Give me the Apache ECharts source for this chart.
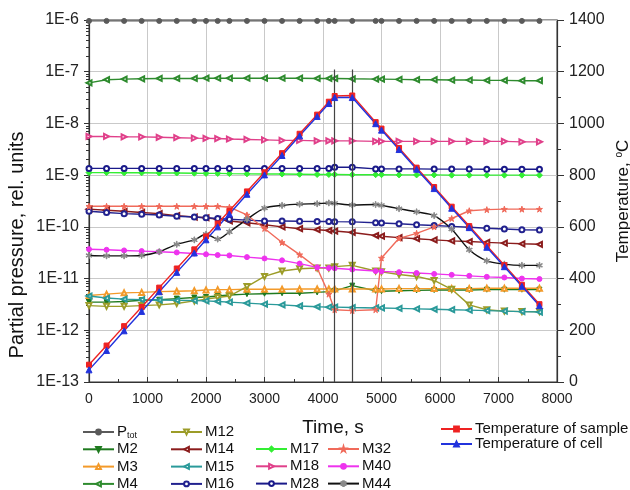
<!DOCTYPE html>
<html>
<head>
<meta charset="utf-8">
<script src="https://cdn.jsdelivr.net/npm/echarts@6/dist/echarts.min.js"></script>
<style>
  html, body { margin: 0; padding: 0; background: #fff; }
  #chart { width: 630px; height: 490px; }
</style>
</head>
<body>
<div id="chart"></div>
<script>
// time, s
var timeS = [0, 300, 600, 900, 1200, 1500, 1800, 2000, 2200, 2400, 2700, 3000, 3300, 3600, 3900, 4100, 4200, 4500,
	4900, 5000, 5300, 5600, 5900, 6200, 6500, 6800, 7100, 7400, 7700];
var timeTicks = [0, 1000, 2000, 3000, 4000, 5000, 6000, 7000];
var timeMaxTick = 8000;

// partial pressures, rel. units
var pTot = [9.6e-7, 9.6e-7, 9.6e-7, 9.6e-7, 9.6e-7, 9.6e-7, 9.6e-7, 9.6e-7, 9.6e-7, 9.6e-7, 9.6e-7, 9.6e-7, 9.6e-7, 9.6e-7,
	9.6e-7, 9.6e-7, 9.6e-7, 9.6e-7, 9.6e-7, 9.6e-7, 9.6e-7, 9.6e-7, 9.6e-7, 9.6e-7, 9.6e-7, 9.6e-7, 9.6e-7, 9.6e-7, 9.6e-7];
var m2 = [3.5e-12, 3.5e-12, 3.6e-12, 3.8e-12, 3.9e-12, 4.1e-12, 4.3e-12, 4.4e-12, 4.6e-12, 4.8e-12, 5.0e-12, 5.1e-12, 5.2e-12,
	5.2e-12, 5.4e-12, 5.6e-12, 5.8e-12, 7.3e-12, 5.8e-12, 5.7e-12, 5.8e-12, 5.9e-12, 6.0e-12, 6.0e-12, 6.0e-12, 6.1e-12,
	6.1e-12, 6.1e-12, 6.1e-12];
var m3 = [4.7e-12, 5.0e-12, 5.3e-12, 5.4e-12, 5.6e-12, 5.7e-12, 5.8e-12, 6.0e-12, 6.1e-12, 6.1e-12, 6.2e-12, 6.2e-12, 6.2e-12,
	6.3e-12, 6.3e-12, 6.3e-12, 6.3e-12, 6.3e-12, 6.3e-12, 6.3e-12, 6.4e-12, 6.4e-12, 6.4e-12, 6.4e-12, 6.4e-12, 6.5e-12,
	6.5e-12, 6.5e-12, 6.5e-12];
var m4 = [6.1e-8, 7.0e-8, 7.2e-8, 7.3e-8, 7.4e-8, 7.4e-8, 7.4e-8, 7.5e-8, 7.5e-8, 7.5e-8, 7.5e-8, 7.5e-8, 7.5e-8, 7.5e-8,
	7.4e-8, 7.4e-8, 7.4e-8, 7.3e-8, 7.2e-8, 7.2e-8, 7.1e-8, 7.0e-8, 7.0e-8, 6.9e-8, 6.9e-8, 6.8e-8, 6.8e-8, 6.7e-8, 6.7e-8];
var m12 = [3.0e-12, 2.9e-12, 2.9e-12, 3.0e-12, 3.1e-12, 3.3e-12, 3.7e-12, 4.0e-12, 4.3e-12, 4.6e-12, 7.0e-12, 1.1e-11, 1.4e-11,
	1.55e-11, 1.6e-11, 1.6e-11, 1.7e-11, 1.8e-11, 1.4e-11, 1.35e-11, 1.2e-11, 1.1e-11, 9.2e-12, 6.2e-12, 3.1e-12, 2.5e-12,
	2.35e-12, 2.3e-12, 2.3e-12];
var m14 = [2.2e-10, 2.1e-10, 2.0e-10, 1.9e-10, 1.8e-10, 1.65e-10, 1.55e-10, 1.5e-10, 1.4e-10, 1.3e-10, 1.2e-10, 1.1e-10, 1.0e-10,
	9.2e-11, 8.8e-11, 8.5e-11, 8.3e-11, 7.8e-11, 6.8e-11, 6.6e-11, 6.2e-11, 5.9e-11, 5.6e-11, 5.35e-11, 5.2e-11, 5.0e-11,
	4.85e-11, 4.7e-11, 4.6e-11];
var m15 = [4.6e-12, 4.2e-12, 4.0e-12, 3.9e-12, 3.85e-12, 3.8e-12, 3.75e-12, 3.7e-12, 3.6e-12, 3.5e-12, 3.35e-12, 3.2e-12,
	3.1e-12, 2.95e-12, 2.85e-12, 2.8e-12, 2.8e-12, 2.75e-12, 2.7e-12, 2.7e-12, 2.65e-12, 2.6e-12, 2.55e-12, 2.5e-12,
	2.45e-12, 2.4e-12, 2.35e-12, 2.3e-12, 2.25e-12];
var m16 = [2.0e-10, 1.9e-10, 1.8e-10, 1.75e-10, 1.7e-10, 1.6e-10, 1.55e-10, 1.5e-10, 1.45e-10, 1.4e-10, 1.35e-10, 1.3e-10,
	1.3e-10, 1.28e-10, 1.27e-10, 1.27e-10, 1.26e-10, 1.25e-10, 1.2e-10, 1.19e-10, 1.15e-10, 1.1e-10, 1.06e-10, 1.02e-10,
	9.8e-11, 9.4e-11, 9.1e-11, 8.8e-11, 8.7e-11];
var m17 = [1.12e-9, 1.12e-9, 1.11e-9, 1.11e-9, 1.1e-9, 1.1e-9, 1.09e-9, 1.08e-9, 1.08e-9, 1.07e-9, 1.06e-9, 1.05e-9, 1.05e-9,
	1.04e-9, 1.03e-9, 1.03e-9, 1.03e-9, 1.02e-9, 1.02e-9, 1.02e-9, 1.01e-9, 1.01e-9, 1.01e-9, 1.0e-9, 1.0e-9, 1.0e-9,
	1.0e-9, 1.0e-9, 1.0e-9];
var m18 = [5.6e-9, 5.6e-9, 5.5e-9, 5.5e-9, 5.4e-9, 5.3e-9, 5.2e-9, 5.15e-9, 5.1e-9, 5.0e-9, 4.9e-9, 4.8e-9, 4.7e-9, 4.7e-9,
	4.6e-9, 4.6e-9, 4.6e-9, 4.6e-9, 4.5e-9, 4.5e-9, 4.5e-9, 4.5e-9, 4.5e-9, 4.5e-9, 4.5e-9, 4.5e-9, 4.5e-9, 4.4e-9, 4.4e-9];
var m28 = [1.35e-9, 1.35e-9, 1.35e-9, 1.35e-9, 1.35e-9, 1.35e-9, 1.35e-9, 1.35e-9, 1.35e-9, 1.35e-9, 1.35e-9, 1.35e-9,
	1.35e-9, 1.35e-9, 1.35e-9, 1.35e-9, 1.42e-9, 1.42e-9, 1.32e-9, 1.32e-9, 1.32e-9, 1.32e-9, 1.31e-9, 1.31e-9, 1.31e-9,
	1.3e-9, 1.3e-9, 1.3e-9, 1.3e-9];
var m32 = [2.5e-10, 2.5e-10, 2.5e-10, 2.5e-10, 2.5e-10, 2.5e-10, 2.5e-10, 2.5e-10, 2.5e-10, 2.4e-10, 1.7e-10, 9.3e-11, 5.0e-11,
	2.9e-11, 1.6e-11, 5.0e-12, 2.5e-12, 2.4e-12, 2.5e-12, 2.5e-11, 6.0e-11, 7.5e-11, 1.0e-10, 1.45e-10, 2.05e-10, 2.15e-10,
	2.2e-10, 2.2e-10, 2.2e-10];
var m40 = [3.7e-11, 3.6e-11, 3.5e-11, 3.4e-11, 3.3e-11, 3.2e-11, 3.05e-11, 2.95e-11, 2.85e-11, 2.8e-11, 2.6e-11, 2.45e-11,
	2.25e-11, 1.95e-11, 1.65e-11, 1.6e-11, 1.58e-11, 1.5e-11, 1.4e-11, 1.38e-11, 1.33e-11, 1.28e-11, 1.23e-11, 1.18e-11,
	1.13e-11, 1.08e-11, 1.05e-11, 1.0e-11, 9.8e-12];
var m44 = [2.8e-11, 2.75e-11, 2.75e-11, 2.8e-11, 3.3e-11, 4.6e-11, 5.6e-11, 7.2e-11, 5.8e-11, 8.0e-11, 1.4e-10, 2.3e-10, 2.6e-10,
	2.75e-10, 2.8e-10, 2.9e-10, 2.85e-10, 2.65e-10, 2.7e-10, 2.6e-10, 2.25e-10, 1.95e-10, 1.65e-10, 9.0e-11, 3.6e-11,
	2.2e-11, 1.9e-11, 1.8e-11, 1.8e-11];

// temperature, oC
var tSample = [67, 141, 216, 290, 365, 439, 513, 563, 613, 662, 737, 811, 885, 960, 1034, 1084, 1106, 1108,
	1005, 980, 905, 829, 754, 678, 603, 527, 452, 376, 301];
var tCell = [47, 122, 198, 273, 349, 424, 499, 550, 600, 650, 726, 801, 876, 952, 1027, 1077, 1100, 1100,
	999, 974, 899, 823, 748, 672, 597, 521, 446, 370, 295];

// vertical marker lines (s)
var markTimes = [4190, 4500];

var FONT = 'Liberation Sans, Arial, sans-serif';
var STAR = 'path://M50,0 L61,35 L98,35 L68,57 L79,91 L50,70 L21,91 L32,57 L2,35 L39,35 Z';
var ASTER = 'path://M45,0h10v40l35,-20l5,9l-35,21l35,21l-5,9l-35,-20v40h-10v-40l-35,20l-5,-9l35,-21l-35,-21l5,-9l35,20z';

function pairs(vals){
	var out = [];
	for(var i=0;i<timeS.length;i++){
		out.push([timeS[i], vals[i]]);
	}
	return out;
}

function line(name, vals, color, symbol, size, rotate, axis, markColor){
	return {
		name: name,
		type: 'line',
		yAxisIndex: axis || 0,
		data: pairs(vals),
		symbol: symbol,
		symbolSize: size,
		symbolRotate: rotate || 0,
		showAllSymbol: true,
		color: color,
		lineStyle: { color: color, width: 1.4 },
		itemStyle: { color: markColor || color, borderColor: markColor || color, borderWidth: 1 },
		z: axis ? 5 : 3
	};
}

var series = [
	line('Ptot', pTot, '#5a5a5a', 'circle', 5),
	line('M2', m2, '#1f7a1f', 'triangle', 5, 180),
	line('M3', m3, '#f39a2a', 'emptyTriangle', 5),
	line('M4', m4, '#2e8b2e', 'emptyTriangle', 5, 90),
	line('M12', m12, '#9c9c28', 'emptyTriangle', 5, 180),
	line('M14', m14, '#8b1c1c', 'emptyTriangle', 5, 90),
	line('M15', m15, '#2a9a9a', 'emptyTriangle', 5, 90),
	line('M16', m16, '#22228f', 'emptyCircle', 5),
	line('M17', m17, '#33ee33', 'diamond', 6),
	line('M18', m18, '#e0408a', 'emptyTriangle', 5, -90),
	line('M28', m28, '#1a1a8a', 'emptyCircle', 5),
	line('M32', m32, '#f06a5a', STAR, 6),
	line('M40', m40, '#ee33ee', 'circle', 5),
	line('M44', m44, '#111111', ASTER, 6, 0, 0, '#8a8a8a'),
	line('Temperature of sample', tSample, '#ee2222', 'rect', 5, 0, 1),
	line('Temperature of cell', tCell, '#2233dd', 'triangle', 6, 0, 1)
];
series[13].smooth = 0.3;

// the two vertical lines of the plateau
series[0].markLine = {
	silent: true,
	symbol: ['none', 'none'],
	label: { show: false },
	lineStyle: { color: '#444', type: 'solid', width: 1.2 },
	data: markTimes.map(function(t){ return [{ coord: [t, 1.1e-7] }, { coord: [t, 1e-13] }]; })
};

function legendBox(names, left, top, gap){
	return {
		data: names,
		orient: 'vertical',
		left: left,
		top: top,
		height: 120,
		padding: 0,
		itemGap: gap,
		itemWidth: 31,
		itemHeight: 6,
		selectedMode: false,
		formatter: function(name){
			return name === 'Ptot' ? '{n|P}{s|tot}' : name;
		},
		textStyle: {
			fontFamily: FONT, fontSize: 15, color: '#111', lineHeight: 16, padding: [0, 0, 0, -2],
			rich: {
				n: { fontFamily: FONT, fontSize: 15, color: '#111' },
				s: { fontFamily: FONT, fontSize: 9, color: '#111', verticalAlign: 'bottom', padding: [6, 0, 0, 0] }
			}
		}
	};
}

function plain(v){ return String(v); }

var myChart = echarts.init(document.getElementById('chart'), null, { renderer: 'canvas' });
var option = {
	animation: false,
	backgroundColor: '#fff',
	grid: {
		left: 89, right: 73, top: 20, bottom: 108,
		show: true, borderColor: '#333', borderWidth: 1,
		outerBoundsMode: 'none'
	},
	legend: [
		legendBox(['Ptot', 'M2', 'M3', 'M4'], 82, 424, 1.3),
		legendBox(['M12', 'M14', 'M15', 'M16'], 170, 424, 1.3),
		legendBox(['M17', 'M18', 'M28'], 255, 441, 1.3),
		legendBox(['M32', 'M40', 'M44'], 327, 441, 1.3),
		legendBox(['Temperature of sample', 'Temperature of cell'], 440, 421, -1)
	],
	xAxis: {
		type: 'value',
		min: 0, max: 8000, interval: 1000,
		name: 'Time, s',
		nameLocation: 'middle',
		nameGap: 36,
		nameMoveOverlap: false,
		nameTextStyle: { fontFamily: FONT, fontSize: 19, color: '#111', padding: [0, 0, 0, 20] },
		axisLine: { lineStyle: { color: '#333', width: 1.2 } },
		axisTick: { inside: true, length: 5, lineStyle: { color: '#333' } },
		minorTick: { show: true, splitNumber: 2, length: 3, lineStyle: { color: '#333' } },
		axisLabel: {
			fontFamily: FONT, fontSize: 14, color: '#222', margin: 10, formatter: plain,
			customValues: timeTicks, hideOverlap: false
		},
		splitLine: { show: true, lineStyle: { color: '#c9c9c9', width: 1 } }
	},
	yAxis: [{
		type: 'log',
		logBase: 10,
		min: 1e-13, max: 1e-6,
		splitNumber: 7,
		name: 'Partial pressure, rel. units',
		nameLocation: 'middle',
		nameGap: 62,
		nameRotate: 90,
		nameMoveOverlap: false,
		nameTextStyle: { fontFamily: FONT, fontSize: 20, color: '#111', padding: [0, 88, 0, 0] },
		axisLine: { show: true, lineStyle: { color: '#333', width: 1.2 } },
		axisTick: { show: true, length: 5, lineStyle: { color: '#333' } },
		minorTick: { show: true, splitNumber: 9, length: 3, lineStyle: { color: '#333' } },
		axisLabel: {
			fontFamily: FONT, fontSize: 16, color: '#222', margin: 10,
			formatter: function(v){ return '1E' + Math.round(Math.log(v) / Math.LN10); }
		},
		splitLine: { show: true, lineStyle: { color: '#c9c9c9', width: 1 } }
	}, {
		type: 'value',
		position: 'right',
		min: 0, max: 1400, interval: 200,
		name: 'Temperature, {sup|o}C',
		nameLocation: 'middle',
		nameGap: 57,
		nameRotate: 90,
		nameMoveOverlap: false,
		nameTextStyle: {
			fontFamily: FONT, fontSize: 17, color: '#111',
			rich: { sup: { fontFamily: FONT, fontSize: 10, color: '#111', verticalAlign: 'top', padding: [0, 0, 8, 0] } }
		},
		axisLine: { show: true, lineStyle: { color: '#333', width: 1.2 } },
		axisTick: { show: true, length: 7, lineStyle: { color: '#333' } },
		minorTick: { show: true, splitNumber: 2, length: 4, lineStyle: { color: '#333' } },
		axisLabel: {
			fontFamily: FONT, fontSize: 16, color: '#222', margin: 12, formatter: plain,
			showMinLabel: true, showMaxLabel: true, hideOverlap: false
		},
		splitLine: { show: false }
	}],
	series: series
};
myChart.setOption(option);

// the last time label sits on the right axis line and gets dropped, so place it through the scale
var px = myChart.convertToPixel({ xAxisIndex: 0 }, timeMaxTick);
var py = myChart.convertToPixel({ yAxisIndex: 0 }, 1e-13);
myChart.setOption({
	graphic: [{
		type: 'text',
		x: px,
		y: py + 10,
		silent: true,
		style: {
			text: String(timeMaxTick),
			fontFamily: FONT, fontSize: 14, fill: '#222',
			align: 'center', verticalAlign: 'top'
		}
	}]
});
</script>
</body>
</html>
